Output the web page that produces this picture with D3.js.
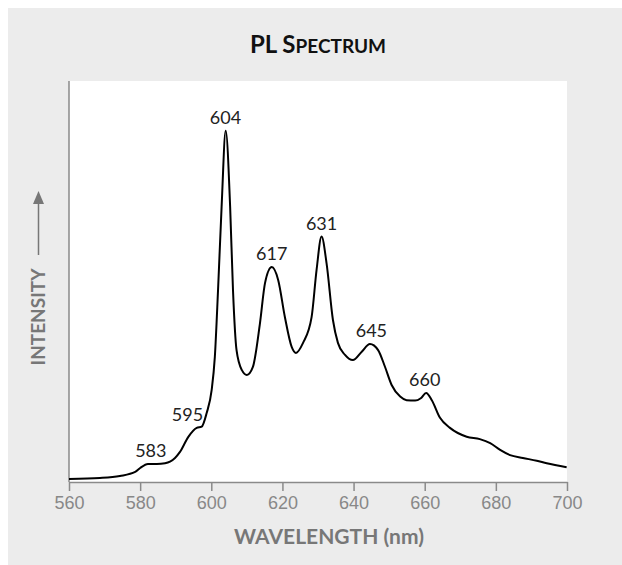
<!DOCTYPE html>
<html lang="en">
<head>
    <meta charset="UTF-8">
    <title>PL Spectrum</title>
    <style>
        body { margin: 0; background: #fff; }
        svg { display: block; }
    </style>
</head>
<body>
<div id="chart"></div>

<script src="https://d3js.org/d3.v7.min.js"></script>
<script>
    // wavelength (nm) and relative intensity
    var wavelength = [560, 568.7, 574.3, 578.6, 580.0, 582.2, 584.7, 587.0, 588.4, 589.8,
        591.2, 593.5, 595.9, 597.3, 598.7, 600.1, 601.0, 601.9, 602.9, 604.05,
        605.3, 606.1, 607.1, 608.6, 610.0, 611.7, 613.7, 615.1, 617.0, 618.8,
        620.7, 622.6, 623.8, 625.8, 628.2, 629.6, 631.0, 632.4, 634.2, 635.6,
        637.6, 639.8, 642.3, 644.6, 646.9, 648.8, 650.7, 653.1, 654.9, 657.3,
        658.9, 660.4, 662.0, 664.3, 667.1, 671.8, 675.5, 678.4, 681.2, 684.0,
        687.6, 691.5, 694.3, 699.9];
    var intensity = [0.75, 1.0, 1.5, 2.5, 3.5, 4.5, 4.5, 4.7, 5.1, 6.0,
        7.5, 11.2, 13.5, 13.8, 17.2, 22.9, 31.2, 47.9, 68.6, 87.6,
        68.6, 47.9, 32.9, 27.9, 26.7, 28.7, 39.7, 49.6, 53.6, 50.4,
        41.1, 33.7, 32.2, 34.7, 41.1, 52.9, 61.2, 54.6, 40.4, 34.7,
        31.7, 30.4, 32.5, 34.4, 32.9, 28.8, 24.2, 21.3, 20.4, 20.3,
        20.9, 22.2, 20.4, 16.0, 13.5, 11.3, 10.7, 9.7, 8.0, 6.7,
        6.0, 5.3, 4.7, 3.7];
    var peaks = [583, 595, 604, 617, 631, 645, 660];
    var xTicks = [560, 580, 600, 620, 640, 660, 680, 700];

    var W = 622, H = 565;
    var plot = {left: 69, right: 567, top: 81, bottom: 482};

    var svg = d3.select("#chart").append("svg")
        .attr("width", W)
        .attr("height", H);

    // grey panel and white plotting area
    svg.append("rect")
        .attr("x", 8).attr("y", 8)
        .attr("width", W - 8).attr("height", H - 8)
        .attr("fill", "#ececec");
    svg.append("rect")
        .attr("x", plot.left).attr("y", plot.top)
        .attr("width", plot.right - plot.left).attr("height", plot.bottom - plot.top)
        .attr("fill", "#fff");

    var x = d3.scaleLinear().domain([560, 700]).range([plot.left, plot.right]);
    var y = d3.scaleLinear().domain([0, 100]).range([plot.bottom, plot.top]);

    // x axis
    var xAxis = svg.append("g")
        .attr("transform", "translate(0," + plot.bottom + ")")
        .attr("font-family", "'Liberation Sans', Arial, sans-serif")
        .attr("font-size", 18)
        .call(d3.axisBottom(x).tickValues(xTicks).tickSize(9).tickSizeOuter(0).tickPadding(5));
    xAxis.attr("font-family", "'Liberation Sans', Arial, sans-serif").attr("font-size", 18);
    xAxis.select(".domain").attr("stroke", "#8a8a8a").attr("stroke-width", 1.5);
    xAxis.selectAll(".tick line").attr("stroke", "#8a8a8a").attr("stroke-width", 1.5);
    xAxis.selectAll(".tick text")
        .attr("fill", "#888")
        .style("font-family", "'Liberation Sans', Arial, sans-serif")
        .style("font-size", "18px");

    // y axis: a bare line, no ticks
    svg.append("line")
        .attr("x1", plot.left).attr("x2", plot.left)
        .attr("y1", plot.top).attr("y2", plot.bottom)
        .attr("stroke", "#8a8a8a").attr("stroke-width", 1.5);

    // the spectrum
    var pts = wavelength.map(function (w, i) { return [w, intensity[i]]; });
    var line = d3.line()
        .x(function (d) { return x(d[0]); })
        .y(function (d) { return y(d[1]); })
        .curve(d3.curveMonotoneX);
    svg.append("path")
        .datum(pts)
        .attr("d", line)
        .attr("fill", "none")
        .attr("stroke", "#000")
        .attr("stroke-width", 2)
        .attr("stroke-linejoin", "round");

    // peak labels, placed above the highest point near each peak
    function peakValue(p) {
        var near = pts.filter(function (d) { return Math.abs(d[0] - p) <= 1.5; });
        return d3.max(near, function (d) { return d[1]; });
    }
    svg.selectAll(".peak")
        .data(peaks)
        .enter()
        .append("text")
        .attr("class", "peak")
        .attr("x", function (d) { return x(d) - (d === 595 ? 6 : 0); })
        .attr("y", function (d) { return y(peakValue(d)) - 7; })
        .attr("text-anchor", "middle")
        .attr("font-family", "Lato, 'Open Sans', sans-serif")
        .attr("font-size", 18)
        .attr("fill", "#222")
        .text(function (d) { return d; });

    // title in small caps
    var title = svg.append("text")
        .attr("x", 318).attr("y", 53)
        .attr("text-anchor", "middle")
        .attr("font-family", "Lato, 'Open Sans', sans-serif")
        .attr("font-weight", 700)
        .attr("fill", "#111");
    title.append("tspan").attr("font-size", 24).text("PL S");
    title.append("tspan").attr("font-size", 19).text("PECTRUM");

    // axis titles
    svg.append("text")
        .attr("x", 329).attr("y", 544)
        .attr("text-anchor", "middle")
        .attr("font-family", "Lato, 'Open Sans', sans-serif")
        .attr("font-weight", 700)
        .attr("font-size", 21)
        .attr("fill", "#777")
        .text("WAVELENGTH (nm)");

    svg.append("text")
        .attr("transform", "translate(45,317) rotate(-90)")
        .attr("text-anchor", "middle")
        .attr("font-family", "Lato, 'Open Sans', sans-serif")
        .attr("font-weight", 700)
        .attr("font-size", 19)
        .attr("fill", "#777")
        .text("INTENSITY");

    // arrow after the y title
    svg.append("line")
        .attr("x1", 38.5).attr("x2", 38.5)
        .attr("y1", 255).attr("y2", 200)
        .attr("stroke", "#777").attr("stroke-width", 1.5);
    svg.append("path")
        .attr("d", "M38.5,191 L33,204 L44,204 Z")
        .attr("fill", "#777");
</script>
</body>
</html>
